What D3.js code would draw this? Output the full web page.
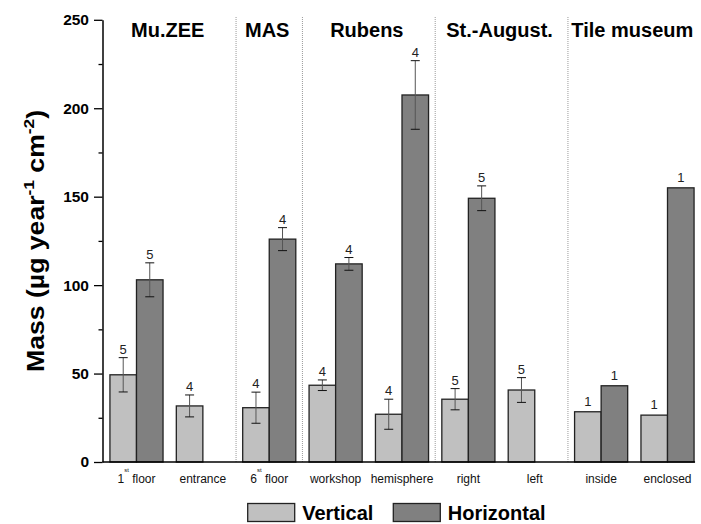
<!DOCTYPE html>
<html>
<head>
<meta charset="utf-8">
<script src="https://cdn.jsdelivr.net/npm/d3@7"></script>
<style>
  html, body { margin: 0; padding: 0; background: #fff; }
  svg { display: block; font-family: Arial, "Liberation Sans", sans-serif; }
</style>
</head>
<body>
<script>
// ---------- data ----------
const categories = ["1st floor", "entrance", "6st floor", "workshop", "hemisphere", "right", "left", "inside", "enclosed"];
const groupNames = ["Mu.ZEE", "MAS", "Rubens", "St.-August.", "Tile museum"];
const groupSizes = [2, 1, 2, 2, 2];

const verticalMean = [49.3, 31.7, 30.7, 43.4, 27, 35.5, 40.7, 28.4, 26.5];
const verticalErr  = [9.7, 6.2, 8.8, 3, 8.5, 6, 7, 0, 0];
const verticalN    = [5, 4, 4, 4, 4, 5, 5, 1, 1];

const horizontalMean = [103, null, 126, 112, 207.5, 149.1, null, 43.1, 155];
const horizontalErr  = [9.6, null, 6.5, 3.6, 19.4, 7, null, 0, 0];
const horizontalN    = [5, null, 4, 4, 4, 5, null, 1, 1];

const yMajorTicks = [0, 50, 100, 150, 200, 250];
const yMinorTicks = [25, 75, 125, 175, 225];
const seriesNames = ["Vertical", "Horizontal"];
const seriesColors = ["#c0c0c0", "#808080"];

// ---------- chart ----------
const W = 701, H = 524;
const svg = d3.select("body").append("svg").attr("width", W).attr("height", H);

const x = d3.scaleBand().domain(categories).range([103.3, 700.7]).paddingInner(0.2).paddingOuter(0.1);
const y = d3.scaleLinear().domain([0, 250]).range([462, 19.8]);
const axisX = 102.5;
const step = x.step();
const bw = x.bandwidth() / 2;

// group separators (dotted)
let idx = 0;
const groupInfo = groupSizes.map((n, i) => {
  const first = categories[idx], last = categories[idx + n - 1];
  idx += n;
  return { name: groupNames[i], first, last };
});
const boundary = c => x(c) - step * x.paddingInner() / 2;
groupInfo.slice(1).forEach(g => {
  svg.append("line")
    .attr("x1", boundary(g.first)).attr("x2", boundary(g.first))
    .attr("y1", 17).attr("y2", y(0))
    .attr("stroke", "#9a9a9a").attr("stroke-width", 1)
    .attr("stroke-dasharray", "1,1");
});

// group labels
groupInfo.forEach((g, i) => {
  const left = i === 0 ? x.range()[0] : boundary(g.first);
  const right = i === groupInfo.length - 1 ? x.range()[1] : x(g.last) + x.bandwidth() + step * x.paddingInner() / 2;
  svg.append("text")
    .attr("x", (left + right) / 2 - 2).attr("y", 37)
    .attr("text-anchor", "middle")
    .attr("font-weight", "bold").attr("font-size", 20)
    .text(g.name);
});

// bars + error bars + counts
const series = [
  { mean: verticalMean, err: verticalErr, n: verticalN, color: seriesColors[0], off: 0 },
  { mean: horizontalMean, err: horizontalErr, n: horizontalN, color: seriesColors[1], off: 1 }
];
series.forEach(s => {
  categories.forEach((c, i) => {
    const v = s.mean[i];
    if (v == null) return;
    const bx = x(c) + s.off * bw;
    const cx = bx + bw / 2;
    svg.append("rect")
      .attr("x", bx).attr("y", y(v))
      .attr("width", bw).attr("height", y(0) - y(v))
      .attr("fill", s.color).attr("stroke", "#222").attr("stroke-width", 1.3);
    const e = s.err[i];
    let labelY = y(v) - 6;
    if (e) {
      svg.append("line").attr("x1", cx).attr("x2", cx)
        .attr("y1", y(v + e)).attr("y2", y(v - e))
        .attr("stroke", "#555").attr("stroke-width", 1);
      [v + e, v - e].forEach(t => {
        svg.append("line").attr("x1", cx - 4.5).attr("x2", cx + 4.5)
          .attr("y1", y(t)).attr("y2", y(t))
          .attr("stroke", "#111").attr("stroke-width", 1);
      });
      labelY = y(v + e) - 4;
    }
    svg.append("text")
      .attr("x", cx).attr("y", labelY)
      .attr("text-anchor", "middle").attr("font-size", 13)
      .attr("fill", "#222")
      .text(s.n[i]);
  });
});

// y axis
const yAxis = svg.append("g").attr("transform", `translate(${axisX},0)`)
  .call(d3.axisLeft(y).tickValues(yMajorTicks).tickSize(8.5).tickSizeOuter(0).tickPadding(5).tickFormat(d3.format("d")));
yAxis.select(".domain").attr("stroke", "#000").attr("stroke-width", 1.5);
yAxis.selectAll(".tick line").attr("stroke", "#000").attr("stroke-width", 1.3);
yAxis.selectAll(".tick text").attr("font-size", 15.5).attr("font-weight", "bold")
  .attr("font-family", "Arial, 'Liberation Sans', sans-serif").attr("fill", "#000");
const yMinor = svg.append("g").attr("transform", `translate(${axisX},0)`)
  .call(d3.axisLeft(y).tickValues(yMinorTicks).tickSize(4).tickFormat(""));
yMinor.select(".domain").remove();
yMinor.selectAll(".tick line").attr("stroke", "#000").attr("stroke-width", 1.3);

// x axis line
const lastCat = categories[categories.length - 1];
svg.append("line")
  .attr("x1", axisX).attr("x2", x(lastCat) + x.bandwidth() + 1)
  .attr("y1", y(0)).attr("y2", y(0))
  .attr("stroke", "#000").attr("stroke-width", 1.5);

// category labels
categories.forEach(c => {
  const t = svg.append("text")
    .attr("x", x(c) + x.bandwidth() / 2).attr("y", 482.5)
    .attr("text-anchor", "middle").attr("font-size", 12).attr("fill", "#111");
  const m = c.match(/^(\d+)(st) (.*)$/);
  if (m) {
    t.append("tspan").text(m[1]);
    t.append("tspan").attr("font-size", 6).attr("dy", -11).text(m[2]);
    t.append("tspan").attr("dy", 11).text("\u00a0" + m[3]);
  } else {
    t.text(c);
  }
});

// y title
const title = svg.append("text")
  .attr("transform", `translate(44,${(y(0) + y(250)) / 2}) rotate(-90)`)
  .attr("text-anchor", "middle")
  .attr("font-weight", "bold").attr("font-size", 23)
  .attr("textLength", 262).attr("lengthAdjust", "spacingAndGlyphs");
title.append("tspan").text("Mass (\u00b5g year");
title.append("tspan").attr("font-size", 15).attr("dy", -10).text("-1");
title.append("tspan").attr("dy", 10).text(" cm");
title.append("tspan").attr("font-size", 15).attr("dy", -10).text("-2");
title.append("tspan").attr("dy", 10).text(")");

// legend
const legendX = [247.7, 393.3];
seriesNames.forEach((name, i) => {
  svg.append("rect")
    .attr("x", legendX[i]).attr("y", 503.5)
    .attr("width", 47).attr("height", 18)
    .attr("fill", seriesColors[i]).attr("stroke", "#222").attr("stroke-width", 1.3);
  svg.append("text")
    .attr("x", legendX[i] + 54.5).attr("y", 520)
    .attr("font-weight", "bold").attr("font-size", 20)
    .text(name);
});
</script>
</body>
</html>
